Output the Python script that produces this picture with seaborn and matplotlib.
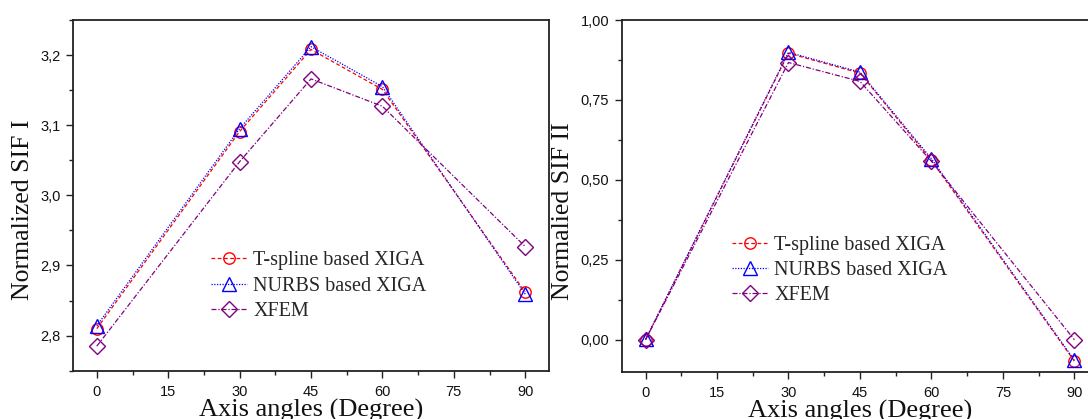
import matplotlib
matplotlib.use("Agg")
import matplotlib.pyplot as plt
import seaborn as sns
from matplotlib.ticker import MultipleLocator

sns.set_theme(style="white")
plt.rcParams['font.family'] = ['Liberation Sans', 'DejaVu Sans']

angles = [0, 30, 45, 60, 90]
series_names = ["T-spline based XIGA", "NURBS based XIGA", "XFEM"]

sif1_tspline = [2.810, 3.091, 3.208, 3.151, 2.862]
sif1_nurbs = [2.814, 3.095, 3.212, 3.155, 2.859]
sif1_xfem = [2.785, 3.048, 3.166, 3.127, 2.927]

sif2_tspline = [0.000, 0.896, 0.834, 0.561, -0.067]
sif2_nurbs = [0.001, 0.899, 0.837, 0.566, -0.064]
sif2_xfem = [0.000, 0.867, 0.808, 0.558, 0.000]

x_ticks = [0, 15, 30, 45, 60, 75, 90]
y1_ticks = [2.8, 2.9, 3.0, 3.1, 3.2]
y1_labels = ["2,8", "2,9", "3,0", "3,1", "3,2"]
y2_ticks = [0.0, 0.25, 0.5, 0.75, 1.0]
y2_labels = ["0,00", "0,25", "0,50", "0,75", "1,00"]

styles = [
    dict(color="#ff0000", marker="o", ls=(0, (3, 2)), ms=8.2),
    dict(color="#0000ff", marker="^", ls=(0, (1, 1.2)), ms=10),
    dict(color="#800080", marker="D", ls=(0, (4, 1.5, 1, 1.5)), ms=7.8),
]

fig = plt.figure(figsize=(10.88, 4.19), dpi=100)
ax1 = fig.add_axes([73/1088, (419-370.7)/419, 476/1088, 350.7/419])
ax2 = fig.add_axes([621.7/1088, (419-371.7)/419, 476.5/1088, 351.7/419])

serif = ['Liberation Serif', 'DejaVu Serif']

def draw(ax, data, yticks, ylabels, ylim, minor_y, ylabel, leg_anchor, ylab_x, ylab_y):
    for name, vals, st in zip(series_names, data, styles):
        sns.lineplot(x=angles, y=vals, ax=ax, color=st["color"], linestyle=st["ls"],
                     linewidth=0.9, marker=st["marker"], markersize=st["ms"],
                     markerfacecolor="none", markeredgecolor=st["color"],
                     markeredgewidth=1.0, label=name)
    ax.set_xlim(-5, 95)
    ax.set_ylim(*ylim)
    ax.set_xticks(x_ticks)
    ax.set_xticklabels([str(t) for t in x_ticks])
    ax.xaxis.set_minor_locator(MultipleLocator(7.5))
    ax.set_yticks(yticks)
    ax.set_yticklabels(ylabels)
    ax.yaxis.set_minor_locator(MultipleLocator(minor_y))
    ax.tick_params(axis="both", which="major", direction="out", length=5, width=1.0,
                   labelsize=10.5, pad=4, color="#222222", labelcolor="#111111",
                   bottom=True, left=True)
    ax.tick_params(axis="both", which="minor", direction="out", length=3, width=1.0,
                   color="#222222", bottom=True, left=True)
    ax.tick_params(axis="x", which="major", pad=5)
    for sp in ax.spines.values():
        sp.set_linewidth(1.3)
        sp.set_color("#222222")
    ax.set_xlabel("Axis angles (Degree)", fontsize=19, family=serif, color="#111111")
    ax.xaxis.set_label_coords(0.5, -0.08)
    ax.set_ylabel(ylabel, fontsize=18.5, family=serif, color="#111111")
    ax.yaxis.set_label_coords(ylab_x, ylab_y)
    ax.grid(False)
    ax.legend(loc="center left", bbox_to_anchor=leg_anchor, frameon=False,
              prop={"family": serif, "size": 14.5}, handlelength=1.8,
              handletextpad=0.3, labelspacing=0.3, borderpad=0, borderaxespad=0)

draw(ax1, [sif1_tspline, sif1_nurbs, sif1_xfem], y1_ticks, y1_labels, (2.75, 3.25), 0.05,
     "Normalized SIF I", (0.29, 0.2415), -0.082, 0.458)
draw(ax2, [sif2_tspline, sif2_nurbs, sif2_xfem], y2_ticks, y2_labels, (-0.1, 1.0), 0.125,
     "Normalied SIF II", (0.231, 0.287), -0.1, 0.457)

fig.savefig("out.png", dpi=100)
